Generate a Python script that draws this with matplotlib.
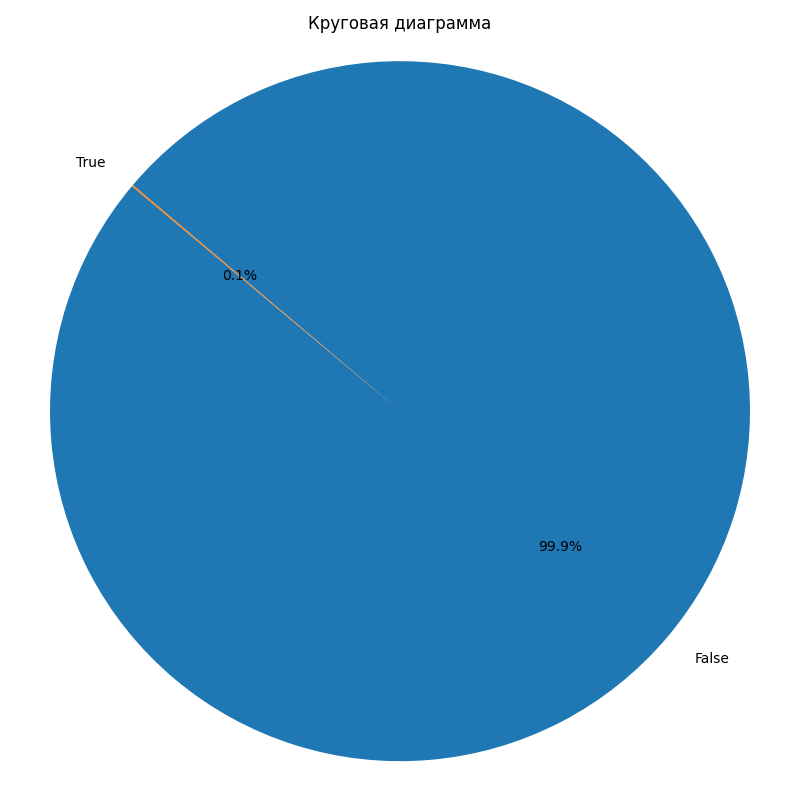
import matplotlib
matplotlib.use("Agg")
import matplotlib.pyplot as plt

labels = ['False', 'True']
counts = [9993, 7]

plt.figure(figsize=(8, 8))
plt.pie(counts, labels=labels, autopct='%1.1f%%', startangle=140)
plt.title('Круговая диаграмма')
plt.axis('equal')
plt.tight_layout()
plt.savefig('out.png', dpi=100)
